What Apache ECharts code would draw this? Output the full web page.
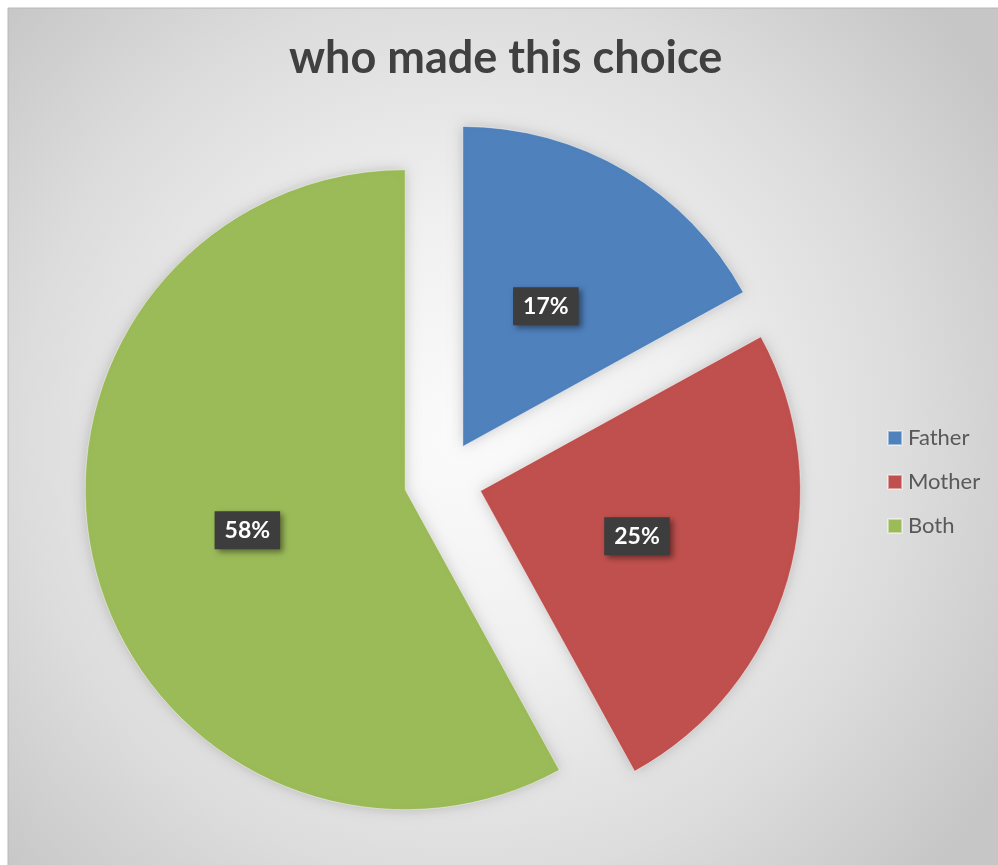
<!DOCTYPE html>
<html>
<head>
<meta charset="utf-8">
<title>who made this choice</title>
<script src="https://cdn.jsdelivr.net/npm/echarts@6/dist/echarts.min.js"></script>
<style>
  html, body { margin: 0; padding: 0; background: #ffffff; }
  #chart { width: 998px; height: 865px; }
</style>
</head>
<body>
<div id="chart"></div>
<script>
// Who made the choice, share of answers (percent)
const categories = ['Father', 'Mother', 'Both'];
const shares = [17, 25, 58];
const sliceColors = ['#4f81bd', '#c0504d', '#9bbb59'];

const chart = echarts.init(document.getElementById('chart'), null, { renderer: 'canvas' });

const sliceStyle = (color) => ({
  color: color,
  borderColor: 'rgba(255,255,255,0.45)',
  borderWidth: 1,
  shadowBlur: 14,
  shadowColor: 'rgba(0,0,0,0.18)'
});

const pieData = categories.map((name, i) => ({
  name: name,
  value: shares[i],
  selected: true,
  itemStyle: sliceStyle(sliceColors[i]),
  select: { itemStyle: sliceStyle(sliceColors[i]) }
}));

chart.setOption({
  animation: false,
  backgroundColor: '#ffffff',
  graphic: [{
    type: 'rect',
    z: -10,
    silent: true,
    shape: { x: 8, y: 8, width: 992, height: 860 },
    style: {
      fill: new echarts.graphic.RadialGradient(0.46, 0.5, 0.74, [
        { offset: 0, color: '#fbfbfb' },
        { offset: 0.35, color: '#f0f0f0' },
        { offset: 0.7, color: '#dcdcdc' },
        { offset: 1, color: '#c6c6c6' }
      ]),
      stroke: '#b8b8b8',
      lineWidth: 1
    }
  }],
  title: {
    text: 'who made this choice',
    left: 289,
    top: 36,
    padding: 0,
    textStyle: {
      fontFamily: 'Lato',
      fontWeight: 'bold',
      fontSize: 45,
      color: '#404040'
    }
  },
  legend: {
    orient: 'vertical',
    left: 887,
    top: 427,
    padding: 0,
    itemWidth: 14,
    itemHeight: 14,
    itemGap: 22,
    icon: 'rect',
    data: categories,
    textStyle: {
      fontFamily: 'Lato',
      fontSize: 22,
      color: '#595959',
      padding: [0, 0, 0, 1]
    }
  },
  series: [{
    type: 'pie',
    center: [443, 480],
    radius: 320,
    startAngle: 90,
    clockwise: true,
    selectedMode: 'multiple',
    selectedOffset: 39,
    emphasis: { disabled: true },
    label: {
      show: true,
      position: 'inside',
      formatter: (p) => p.value + '%',
      color: '#ffffff',
      fontFamily: 'Lato',
      fontWeight: 'bold',
      fontSize: 23,
      backgroundColor: '#3d3d3d',
      padding: [8, 10, 7, 10],
      shadowBlur: 6,
      shadowOffsetX: 3,
      shadowOffsetY: 3,
      shadowColor: 'rgba(0,0,0,0.45)'
    },
    labelLine: { show: false },
    data: pieData
  }]
});
</script>
</body>
</html>
